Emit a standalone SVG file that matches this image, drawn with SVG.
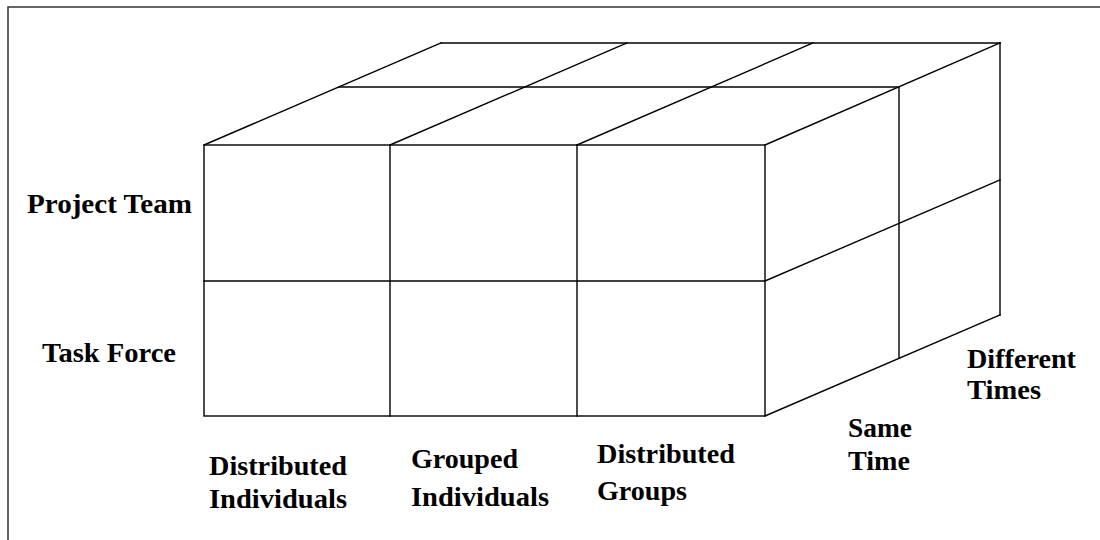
<svg xmlns="http://www.w3.org/2000/svg" width="1100" height="540" viewBox="0 0 1100 540">
  <style>
    .edge { stroke: #000; stroke-width: 1.4; fill: none; stroke-linecap: square; }
    .frame { stroke: #333; stroke-width: 1.5; fill: none; }
    .lbl { font-family: "Liberation Serif", "Times New Roman", serif; font-weight: bold; font-size: 27.5px; fill: #000; }
  </style>
  <rect width="1100" height="540" fill="#fff"/>
  <!-- page frame -->
  <rect class="frame" x="8" y="7" width="1120" height="560"/>

  <g id="cube" class="edge">
    <!-- front face grid -->
    <rect x="204" y="145" width="561" height="271"/>
    <line x1="204" y1="281" x2="765" y2="281"/>
    <line x1="390" y1="145" x2="390" y2="416"/>
    <line x1="577" y1="145" x2="577" y2="416"/>
    <!-- top face -->
    <line x1="441" y1="43" x2="1000" y2="43"/>
    <line x1="339" y1="87" x2="899" y2="87"/>
    <line x1="204" y1="145" x2="441" y2="43"/>
    <line x1="390" y1="145" x2="627" y2="43"/>
    <line x1="577" y1="145" x2="813" y2="43"/>
    <line x1="765" y1="145" x2="1000" y2="43"/>
    <!-- right face -->
    <line x1="1000" y1="43" x2="1000" y2="315"/>
    <line x1="899" y1="87" x2="899" y2="358"/>
    <line x1="765" y1="281" x2="1000" y2="180"/>
    <line x1="765" y1="416" x2="1000" y2="315"/>
  </g>

  <g id="row-labels">
    <text class="lbl" x="27" y="213" textLength="165" lengthAdjust="spacingAndGlyphs">Project Team</text>
    <text class="lbl" x="42" y="362" textLength="134" lengthAdjust="spacingAndGlyphs">Task Force</text>
  </g>

  <g id="column-labels">
    <text class="lbl" x="209" y="475" textLength="138" lengthAdjust="spacingAndGlyphs">Distributed</text>
    <text class="lbl" x="209" y="508" textLength="138" lengthAdjust="spacingAndGlyphs">Individuals</text>
    <text class="lbl" x="411" y="468" textLength="107" lengthAdjust="spacingAndGlyphs">Grouped</text>
    <text class="lbl" x="411" y="506" textLength="138" lengthAdjust="spacingAndGlyphs">Individuals</text>
    <text class="lbl" x="597" y="463" textLength="138" lengthAdjust="spacingAndGlyphs">Distributed</text>
    <text class="lbl" x="597" y="500" textLength="90" lengthAdjust="spacingAndGlyphs">Groups</text>
  </g>

  <g id="depth-labels">
    <text class="lbl" x="848" y="437" textLength="64" lengthAdjust="spacingAndGlyphs">Same</text>
    <text class="lbl" x="848" y="470" textLength="62" lengthAdjust="spacingAndGlyphs">Time</text>
    <text class="lbl" x="967" y="368" textLength="109" lengthAdjust="spacingAndGlyphs">Different</text>
    <text class="lbl" x="967" y="399" textLength="74" lengthAdjust="spacingAndGlyphs">Times</text>
  </g>
</svg>
